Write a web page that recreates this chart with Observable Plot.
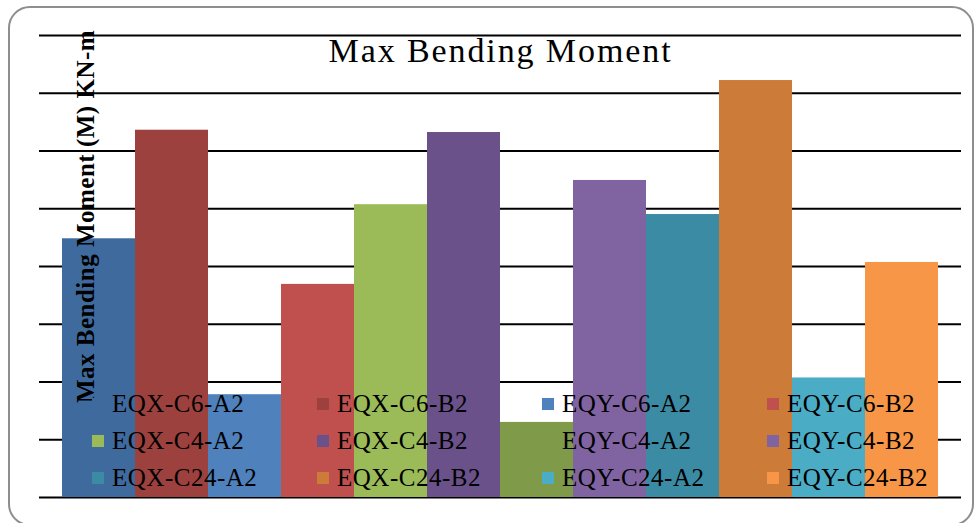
<!DOCTYPE html>
<html><head><meta charset="utf-8">
<script src="https://cdn.jsdelivr.net/npm/d3@7"></script>
<script src="https://cdn.jsdelivr.net/npm/@observablehq/plot@0.6"></script>
<style>
body{margin:0;background:#fff;}
#wrap{position:relative;width:979px;height:523px;overflow:hidden;background:#fff;}
#border{position:absolute;left:8px;top:6px;width:966px;height:520px;border:2px solid #8e8e8e;border-radius:22px;box-sizing:border-box;}
#chart{position:absolute;left:0;top:0;}
#legend{position:absolute;left:92px;top:385px;}
.lg-swatches-columns{column-gap:0;margin:0;}
.lg-swatch{height:37px;padding-bottom:0 !important;}
.lg-swatch > svg{margin-right:8px !important;}
.lg-swatch-label{letter-spacing:0.5px;}
</style></head>
<body><div id="wrap"><div id="border"></div><div id="chart"></div><div id="legend"></div></div>
<script>
const names = ["EQX-C6-A2","EQX-C6-B2","EQY-C6-A2","EQY-C6-B2",
               "EQX-C4-A2","EQX-C4-B2","EQY-C4-A2","EQY-C4-B2",
               "EQX-C24-A2","EQX-C24-B2","EQY-C24-A2","EQY-C24-B2"];
const values = [4.48, 6.36, 1.78, 3.69, 5.07, 6.32, 1.30, 5.49, 4.90, 7.22, 2.07, 4.07];
const colors = ["#3F6A9E","#9D413F","#4F81BD","#C0504D","#9BBB59","#6A5189",
                "#7F9A48","#8064A2","#3B8BA4","#CC7B38","#4BACC6","#F79646"];
const gridTicks = [0,1,2,3,4,5,6,7,8];
const title = "Max Bending Moment";
const yLabel = "Max Bending Moment (M) KN-m";

const data = names.map((n,i)=>({name:n, value:values[i]}));

const plot = Plot.plot({
  width: 979, height: 523,
  marginLeft: 39, marginRight: 18, marginTop: 35, marginBottom: 26,
  x: {type: "band", domain: names, paddingInner: 0, paddingOuter: 0.286, axis: null},
  y: {domain: [0, 8], axis: null},
  color: {domain: names, range: colors},
  style: {fontFamily: "Liberation Serif", background: "transparent", color: "#000"},
  marks: [
    Plot.ruleY(gridTicks, {stroke: "#000", strokeWidth: 2}),
    Plot.barY(data, {x: "name", y: "value", fill: "name"}),
    Plot.text([title], {frameAnchor: "top", lineAnchor: "top", textAnchor: "middle", dy: 2, fontSize: 34, fill: "#000"}),
    Plot.text([yLabel], {frameAnchor: "left", textAnchor: "middle", rotate: -90, dx: 46, dy: -50, fontSize: 25, fontWeight: "bold", fill: "#000"})
  ]
});
d3.select(plot).selectAll("text").each(function() {
  if (this.textContent === title) this.style.letterSpacing = "1.9px";
  if (this.textContent === yLabel) this.style.letterSpacing = "0.5px";
});
document.getElementById("chart").appendChild(plot);

// legend: column-major order so CSS columns reproduce the row-major layout
const rows = 3, cols = 4;
const legendOrder = [];
for (let c = 0; c < cols; c++) for (let r = 0; r < rows; r++) legendOrder.push(names[r*cols + c]);
const legend = Plot.legend({
  color: {type: "ordinal", domain: legendOrder, range: legendOrder.map(n => colors[names.indexOf(n)])},
  legend: "swatches",
  columns: cols,
  swatchSize: 12,
  className: "lg",
  width: 900,
  style: {fontFamily: "Liberation Serif", fontSize: "25px", color: "#000"}
});
document.getElementById("legend").appendChild(legend);
</script>
</body></html>
